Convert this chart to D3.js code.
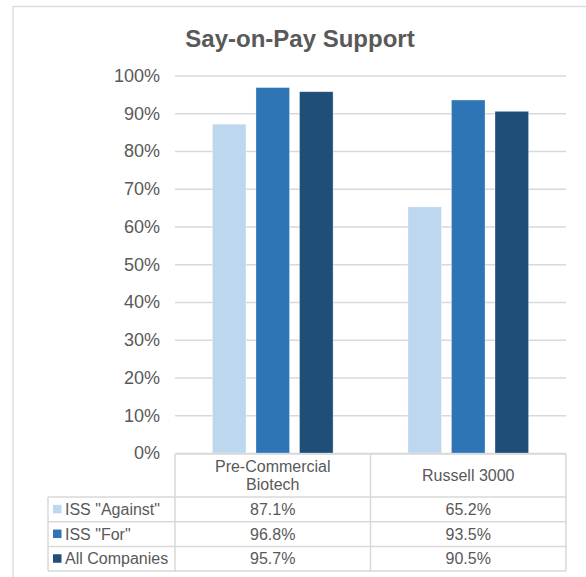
<!DOCTYPE html>
<html>
<head>
<meta charset="utf-8">
<script src="https://cdn.jsdelivr.net/npm/d3@7"></script>
<style>
  body { margin: 0; background: #fff; }
  text { font-family: "Liberation Sans", Arial, sans-serif; fill: #595959; }
</style>
</head>
<body>
<div id="chart"></div>
<script>
// data
const categories = [["Pre-Commercial", "Biotech"], ["Russell 3000"]];
const seriesNames = ['ISS "Against"', 'ISS "For"', "All Companies"];
const seriesColors = ["#bdd7ee", "#2e75b6", "#1f4e79"];
const againstVals = [0.871, 0.652];
const forVals = [0.968, 0.935];
const allVals = [0.957, 0.905];
const yTicks = [0, 0.1, 0.2, 0.3, 0.4, 0.5, 0.6, 0.7, 0.8, 0.9, 1.0];

const seriesVals = [againstVals, forVals, allVals];

const width = 586, height = 577;
const svg = d3.select("#chart").append("svg")
    .attr("width", width)
    .attr("height", height);

// chart frame
svg.append("rect")
    .attr("x", 13).attr("y", 6.5)
    .attr("width", 600).attr("height", 600)
    .attr("fill", "none")
    .attr("stroke", "#d9d9d9")
    .attr("stroke-width", 1.3);

// title
svg.append("text")
    .attr("x", 300).attr("y", 46.5)
    .attr("text-anchor", "middle")
    .style("font-size", "24px")
    .style("font-weight", "bold")
    .text("Say-on-Pay Support");

let catIdx = categories.map((c, i) => i);

let x0 = d3.scaleBand()
    .domain(catIdx)
    .range([175, 566])
    .paddingInner(0);

let x1 = d3.scaleBand()
    .domain(seriesNames)
    .range([0, x0.bandwidth()])
    .paddingInner(0.23)
    .paddingOuter(0.86);

let y = d3.scaleLinear()
    .domain([0, 1])
    .range([453, 75.5]);

// gridlines
let grid = svg.append("g")
    .attr("transform", "translate(175,0)")
    .call(d3.axisLeft(y).tickValues(yTicks).tickSize(-(566 - 175)).tickFormat(""));
grid.select(".domain").remove();
grid.selectAll("line").attr("stroke", "#d9d9d9").attr("stroke-width", 1.3);

// y labels
let yAxis = svg.append("g")
    .attr("transform", "translate(160,0)")
    .call(d3.axisLeft(y).tickValues(yTicks).tickSize(0).tickPadding(0).tickFormat(d3.format(".0%")));
yAxis.select(".domain").remove();
yAxis.selectAll("text")
    .style("font-size", "18px")
    .style("font-family", '"Liberation Sans", Arial, sans-serif')
    .attr("fill", "#595959");

// bars
seriesNames.forEach((s, si) => {
    svg.append("g").selectAll("rect")
        .data(seriesVals[si])
        .enter()
        .append("rect")
        .attr("x", (d, i) => x0(i) + x1(s))
        .attr("y", d => y(d))
        .attr("width", x1.bandwidth())
        .attr("height", d => y(0) - y(d))
        .attr("fill", seriesColors[si])
        .attr("stroke", "#fff")
        .attr("stroke-opacity", 0.35)
        .attr("stroke-width", 0.8);
});

// data table
const tableTop = 454, headerBottom = 497, rowH = 24.7;
const legendLeft = 48, tableRight = 566;
const lineCol = "#d9d9d9";

function hline(x1p, x2p, yp) {
    svg.append("line").attr("x1", x1p).attr("x2", x2p).attr("y1", yp).attr("y2", yp)
        .attr("stroke", lineCol).attr("stroke-width", 1.5);
}
function vline(xp, y1p, y2p) {
    svg.append("line").attr("x1", xp).attr("x2", xp).attr("y1", y1p).attr("y2", y2p)
        .attr("stroke", lineCol).attr("stroke-width", 1.5);
}

hline(175, tableRight, tableTop);
for (let r = 0; r <= seriesNames.length; r++) {
    hline(legendLeft, tableRight, headerBottom + r * rowH);
}
let tableBottom = headerBottom + seriesNames.length * rowH;
vline(legendLeft, headerBottom, tableBottom);
catIdx.forEach(i => vline(x0(i), tableTop, tableBottom));
vline(tableRight, tableTop, tableBottom);

// header labels
catIdx.forEach(i => {
    let lines = categories[i];
    let cy = (tableTop + headerBottom) / 2;
    lines.forEach((ln, li) => {
        svg.append("text")
            .attr("x", x0(i) + x0.bandwidth() / 2)
            .attr("y", cy + (li - (lines.length - 1) / 2) * 18.5)
            .attr("dy", "0.35em")
            .attr("text-anchor", "middle")
            .style("font-size", "16px")
            .text(ln);
    });
});

// rows
seriesNames.forEach((s, si) => {
    let cy = headerBottom + si * rowH + rowH / 2;
    svg.append("rect")
        .attr("x", 53).attr("y", cy - 4.5)
        .attr("width", 8.5).attr("height", 8.5)
        .attr("fill", seriesColors[si]);
    svg.append("text")
        .attr("x", 65).attr("y", cy)
        .attr("dy", "0.35em")
        .style("font-size", "16px")
        .text(s);
    seriesVals[si].forEach((v, i) => {
        svg.append("text")
            .attr("x", x0(i) + x0.bandwidth() / 2)
            .attr("y", cy)
            .attr("dy", "0.35em")
            .attr("text-anchor", "middle")
            .style("font-size", "16px")
            .text(d3.format(".1%")(v));
    });
});
</script>
</body>
</html>
